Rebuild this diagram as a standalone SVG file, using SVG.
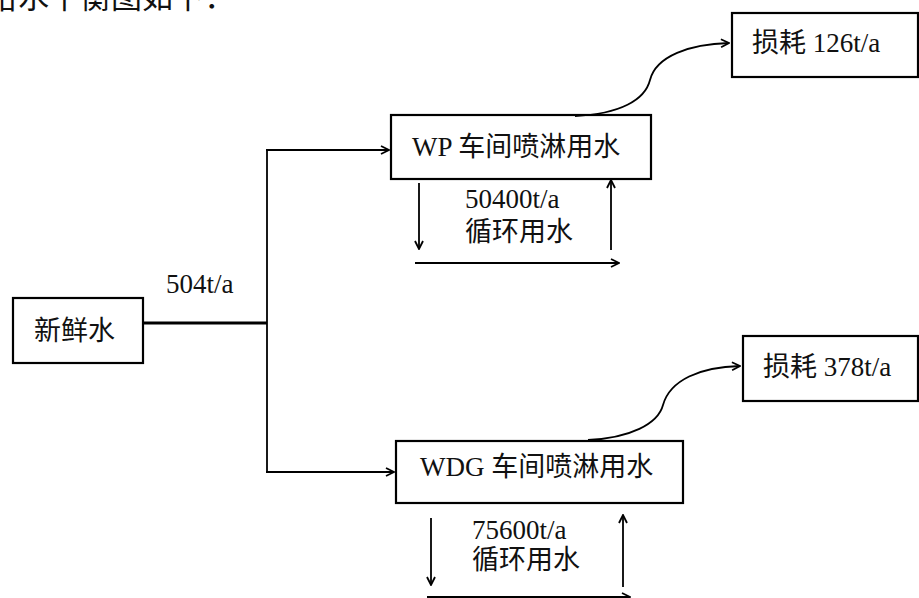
<svg xmlns="http://www.w3.org/2000/svg" width="919" height="598" viewBox="0 0 919 598">
<style>
text{font-family:"Liberation Serif","Noto Sans CJK SC",serif;font-size:27px;fill:#111}
.box{fill:#fff;stroke:#000;stroke-width:2.2}
.ln{fill:none;stroke:#000;stroke-width:1.8}
.ar{fill:none;stroke:#000;stroke-width:1.8;marker-end:url(#ah)}
</style>
<defs>
<marker id="ah" viewBox="0 0 10 10" refX="9" refY="5" markerWidth="10" markerHeight="10" markerUnits="userSpaceOnUse" orient="auto">
<path d="M1,1 L9,5 L1,9" fill="none" stroke="#000" stroke-width="1.8"/>
</marker>
</defs>
<rect width="919" height="598" fill="#fff"/>
<text x="-13" y="8" style="font-size:31px">给水平衡图如下：</text>
<g id="n-fresh"><rect class="box" x="13" y="298" width="130" height="65"/><text x="34" y="340">新鲜水</text></g>
<g id="n-wp"><rect class="box" x="391" y="115" width="260" height="64"/><text x="412" y="156">WP 车间喷淋用水</text></g>
<g id="n-wdg"><rect class="box" x="396" y="441" width="287" height="62"/><text x="420" y="476">WDG 车间喷淋用水</text></g>
<g id="n-loss1"><rect class="box" x="732" y="13" width="186" height="64"/><text x="752" y="52">损耗 126t/a</text></g>
<g id="n-loss2"><rect class="box" x="743" y="336" width="175" height="65"/><text x="763" y="376">损耗 378t/a</text></g>
<g id="labels">
<text x="166" y="293">504t/a</text>
<text x="465" y="208">50400t/a</text>
<text x="465" y="241">循环用水</text>
<text x="472" y="539">75600t/a</text>
<text x="472" y="569">循环用水</text>
</g>
<g id="connectors">
<line x1="143" y1="323" x2="267" y2="323" stroke="#000" stroke-width="2.8"/>
<polyline class="ln" points="267,150 267,472"/>
<line class="ar" x1="266" y1="150" x2="389" y2="150"/>
<line class="ar" x1="266" y1="472" x2="394" y2="472"/>
<line class="ar" x1="419" y1="183" x2="419" y2="249"/>
<line class="ar" x1="611" y1="250" x2="611" y2="180"/>
<line class="ar" x1="415" y1="263" x2="619" y2="263"/>
<line class="ar" x1="431" y1="518" x2="431" y2="585"/>
<line class="ar" x1="623" y1="587" x2="623" y2="515"/>
<line class="ar" x1="427" y1="597" x2="630" y2="597"/>
<path class="ar" d="M575,116 C620,114 645,100 650,80 C656,56 690,44 729,43"/>
<path class="ar" d="M588,440 C630,438 658,424 663,405 C670,380 700,367 740,366"/>
</g>
</svg>
